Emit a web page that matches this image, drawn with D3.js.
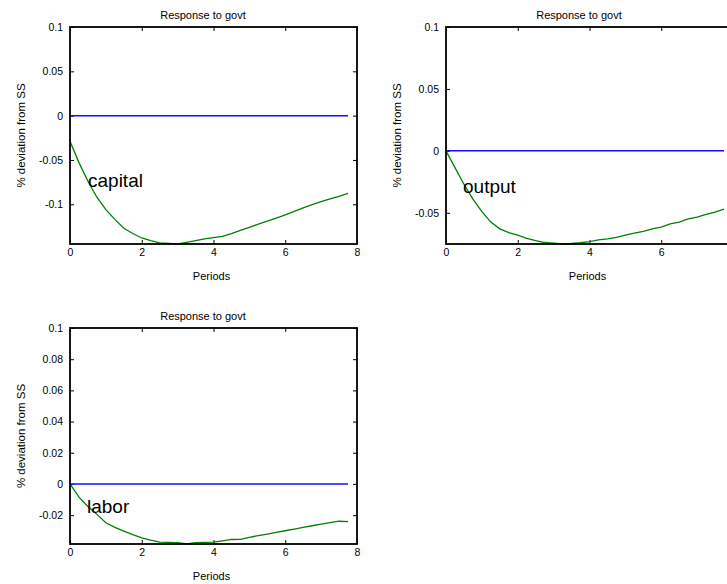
<!DOCTYPE html>
<html>
<head>
<meta charset="utf-8">
<script src="https://cdn.jsdelivr.net/npm/d3@7"></script>
<style>
  body { margin: 0; background: #fff; overflow: hidden; }
  text { font-family: "Liberation Sans", Arial, sans-serif; fill: #000; }
  .tick line { stroke: #000; stroke-width: 1; }
</style>
</head>
<body>
<div id="chart"></div>
<script>
// periods (quarters)
var periods = [0, 0.25, 0.5, 0.75, 1, 1.25, 1.5, 1.75, 2, 2.25, 2.5, 2.75, 3, 3.25, 3.5, 3.75,
               4, 4.25, 4.5, 4.75, 5, 5.25, 5.5, 5.75, 6, 6.25, 6.5, 6.75, 7, 7.25, 7.5, 7.75];

// responses to govt, % deviation from SS
var capital = [-0.029, -0.053, -0.074, -0.092, -0.106, -0.117, -0.127, -0.133, -0.138, -0.141, -0.1435, -0.144,
               -0.1448, -0.143, -0.141, -0.139, -0.1375, -0.1362, -0.133, -0.1295, -0.126, -0.1225, -0.119, -0.1155,
               -0.112, -0.108, -0.104, -0.1005, -0.097, -0.094, -0.091, -0.0876];
var output = [0, -0.0135, -0.027, -0.039, -0.049, -0.0575, -0.063, -0.066, -0.068, -0.0706, -0.0725, -0.074,
              -0.0745, -0.0752, -0.0748, -0.0742, -0.0732, -0.0718, -0.071, -0.0698, -0.068, -0.0665, -0.065, -0.063,
              -0.0615, -0.059, -0.0575, -0.055, -0.0535, -0.0512, -0.0495, -0.047];
var labor = [0, -0.0085, -0.0145, -0.0195, -0.0249, -0.0278, -0.0303, -0.0325, -0.0345, -0.036, -0.0373, -0.0375,
             -0.0377, -0.0385, -0.0377, -0.0375, -0.0373, -0.0365, -0.0356, -0.0355, -0.0342, -0.0331, -0.0321, -0.031,
             -0.03, -0.029, -0.0279, -0.0268, -0.0258, -0.0248, -0.0239, -0.0242];
var steady = periods.map(function() { return 0; });

// tick values
var xTicks = [0, 2, 4, 6, 8];
var capitalTicks = [-0.1, -0.05, 0, 0.05, 0.1];
var outputTicks = [-0.05, 0, 0.05, 0.1];
var laborTicks = [-0.02, 0, 0.02, 0.04, 0.06, 0.08, 0.1];

var svgWidth = 727;
var svgHeight = 584;

var svg = d3.select('#chart')
    .append('svg')
    .attr('width', svgWidth)
    .attr('height', svgHeight);

var fmt = function(d) { return String(Math.round(d * 1000) / 1000); };

function drawPanel(opt) {
    var plotW = 287;
    var left = opt.left, top = opt.top, bottom = opt.bottom;

    var xScale = d3.scaleLinear().domain([0, 8]).range([left, left + plotW]);
    var yScale = d3.scaleLinear()
        .domain([d3.min(opt.values), 0.1])
        .range([bottom, top]);

    // the right panel runs past the window edge: skip labels that fall outside it
    var xLabelTicks = xTicks.filter(function(t) { return xScale(t) < svgWidth - 4; });

    var g = svg.append('g');

    // inside ticks on all four sides
    g.append('g')
        .attr('transform', 'translate(0,' + bottom + ')')
        .call(d3.axisBottom(xScale).tickValues(xLabelTicks).tickSize(-4).tickPadding(5).tickFormat(d3.format('d')))
        .call(function(a) { a.select('.domain').remove(); })
        .selectAll('text').attr('font-size', '10.5px').attr('font-family', null);

    g.append('g')
        .attr('transform', 'translate(0,' + top + ')')
        .call(d3.axisTop(xScale).tickValues(xTicks).tickSize(-4).tickFormat(''))
        .call(function(a) { a.select('.domain').remove(); });

    g.append('g')
        .attr('transform', 'translate(' + left + ',0)')
        .call(d3.axisLeft(yScale).tickValues(opt.ticks).tickSize(-4).tickPadding(7).tickFormat(fmt))
        .call(function(a) { a.select('.domain').remove(); })
        .selectAll('text').attr('font-size', '10.5px').attr('font-family', null);

    g.append('g')
        .attr('transform', 'translate(' + (left + plotW) + ',0)')
        .call(d3.axisRight(yScale).tickValues(opt.ticks).tickSize(-4).tickFormat(''))
        .call(function(a) { a.select('.domain').remove(); });

    g.selectAll('.tick line').attr('stroke', '#000');

    // lines
    var line = d3.line()
        .x(function(d, i) { return xScale(periods[i]); })
        .y(function(d) { return yScale(d); });

    g.append('path')
        .datum(steady)
        .attr('fill', 'none')
        .attr('stroke', '#1010ff')
        .attr('stroke-width', 1.5)
        .attr('d', line);

    g.append('path')
        .datum(opt.values)
        .attr('fill', 'none')
        .attr('stroke', '#008000')
        .attr('stroke-width', 1.3)
        .attr('d', line);

    // frame
    g.append('rect')
        .attr('x', left)
        .attr('y', top)
        .attr('width', plotW)
        .attr('height', bottom - top)
        .attr('fill', 'none')
        .attr('stroke', '#000')
        .attr('stroke-width', 1.8);

    // labels
    g.append('text')
        .attr('x', left + 133)
        .attr('y', top - 8)
        .attr('text-anchor', 'middle')
        .attr('font-size', '11px')
        .text('Response to govt');

    g.append('text')
        .attr('x', left + 141.5)
        .attr('y', bottom + 36)
        .attr('text-anchor', 'middle')
        .attr('font-size', '11px')
        .text('Periods');

    g.append('text')
        .attr('transform', 'translate(' + (left - 45) + ',' + ((top + bottom) / 2) + ')rotate(-90)')
        .attr('text-anchor', 'middle')
        .attr('font-size', '11.5px')
        .text('% deviation from SS');

    g.append('text')
        .attr('x', left + opt.nameDx)
        .attr('y', opt.nameY)
        .attr('font-size', '19px')
        .text(opt.name);
}

drawPanel({ left: 70, top: 27, bottom: 244, values: capital, ticks: capitalTicks, name: 'capital', nameDx: 18, nameY: 187 });
drawPanel({ left: 446, top: 27, bottom: 244, values: output, ticks: outputTicks, name: 'output', nameDx: 17, nameY: 192.5 });
drawPanel({ left: 70, top: 328, bottom: 544, values: labor, ticks: laborTicks, name: 'labor', nameDx: 17, nameY: 513 });
</script>
</body>
</html>
